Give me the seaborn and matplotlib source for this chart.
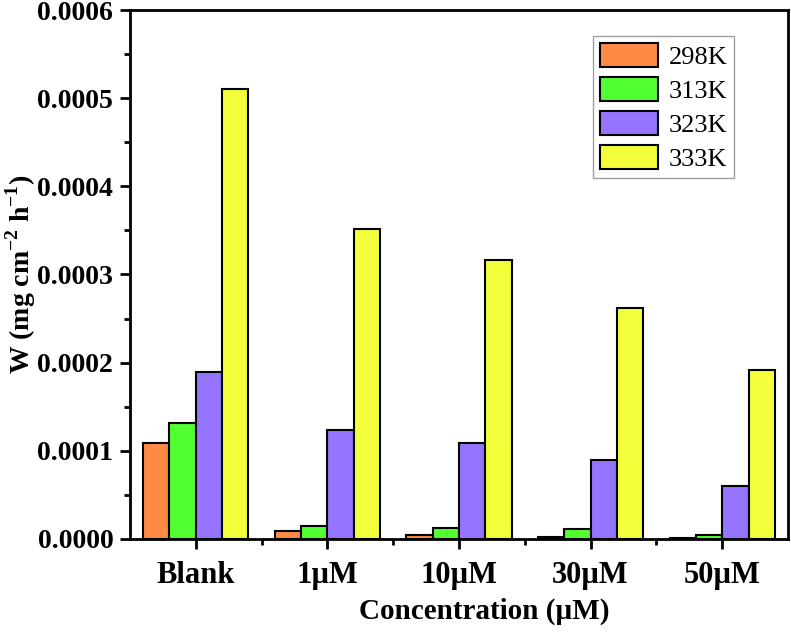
import matplotlib
matplotlib.use("Agg")
import matplotlib.pyplot as plt
from matplotlib.ticker import MultipleLocator, FormatStrFormatter, FixedLocator
import seaborn as sns
import pandas as pd

categories = ['Blank', '1µM', '10µM', '30µM', '50µM']
temps = ['298K', '313K', '323K', '333K']
w298 = [1.09e-4, 9.5e-6, 4.5e-6, 2.0e-6, 1.0e-6]
w313 = [1.32e-4, 1.5e-5, 1.2e-5, 1.13e-5, 4.5e-6]
w323 = [1.89e-4, 1.24e-4, 1.09e-4, 0.90e-4, 0.60e-4]
w333 = [5.10e-4, 3.52e-4, 3.16e-4, 2.62e-4, 1.92e-4]
colors = ['#FF8A45', '#52FF33', '#9575FF', '#F2FF3A']

rows = []
for t, vals in zip(temps, [w298, w313, w323, w333]):
    for c, v in zip(categories, vals):
        rows.append({'Concentration': c, 'W': v, 'Temperature': t})
df = pd.DataFrame(rows)

sns.set_theme(style='ticks')
plt.rcParams['font.family'] = ['Liberation Serif', 'DejaVu Serif']
plt.rcParams['mathtext.fontset'] = 'custom'
plt.rcParams['mathtext.bf'] = 'Liberation Serif:bold'
plt.rcParams['mathtext.rm'] = 'Liberation Serif'
plt.rcParams['text.color'] = 'black'
plt.rcParams['axes.labelcolor'] = 'black'

fig = plt.figure(figsize=(7.91, 6.37), dpi=100)
ax = fig.add_axes([130/791, 1-539/637, (788-130)/791, (539-10)/637])

sns.barplot(data=df, x='Concentration', y='W', hue='Temperature',
            order=categories, hue_order=temps, palette=colors,
            saturation=1, edgecolor='black', linewidth=1.5, width=0.8,
            ax=ax, legend=True)

ax.set_xlim(-0.5, 4.5)
ax.set_ylim(0, 0.0006)
ax.yaxis.set_major_locator(MultipleLocator(0.0001))
ax.yaxis.set_minor_locator(MultipleLocator(0.00005))
ax.yaxis.set_major_formatter(FormatStrFormatter('%.4f'))
ax.xaxis.set_minor_locator(FixedLocator([0.5, 1.5, 2.5, 3.5]))

for s in ax.spines.values():
    s.set_linewidth(2.0)
    s.set_color('black')
ax.tick_params(axis='both', which='major', direction='out', length=7, width=2,
               color='black', labelcolor='black')
ax.tick_params(axis='y', which='major', labelsize=20, pad=5)
ax.tick_params(axis='x', which='major', labelsize=22, pad=9)
ax.tick_params(axis='both', which='minor', direction='out', length=4, width=2,
               color='black')
ax.tick_params(top=False, right=False, which='both')
for lab in ax.get_xticklabels() + ax.get_yticklabels():
    lab.set_fontweight('bold')

ax.set_xlabel('Concentration (µM)', fontsize=21, fontweight='bold',
              color='black')
ax.xaxis.set_label_coords(0.538, -0.11)
ax.xaxis.label.set_verticalalignment('top')
ax.set_ylabel(r'W (mg cm$^{\mathbf{-2}}$ h$^{\mathbf{-1}}$)', fontsize=20,
              fontweight='bold', color='black')
ax.yaxis.set_label_coords(-0.14, 0.5)

leg = ax.legend(loc='upper right', bbox_to_anchor=(0.918, 0.951),
                fontsize=19, frameon=True, fancybox=False, shadow=False,
                handlelength=2.2, handleheight=1.05, labelspacing=0.3,
                handletextpad=0.4, borderpad=0.25, borderaxespad=0)
leg.get_frame().set_edgecolor('#888888')
leg.get_frame().set_linewidth(1.0)
leg.set_title(None)

fig.savefig('out.png', dpi=100)
